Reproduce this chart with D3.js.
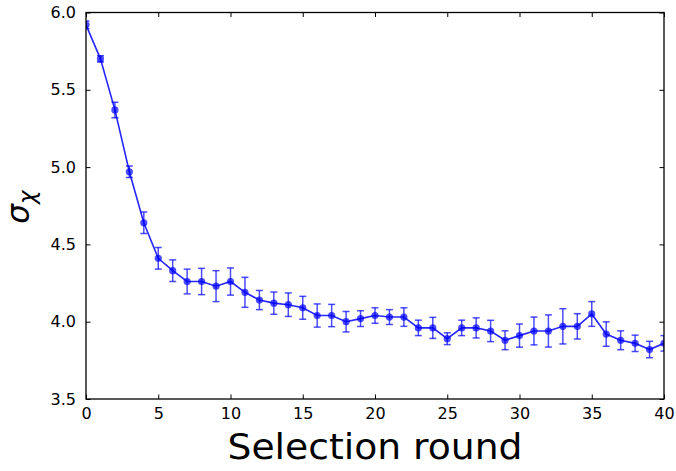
<!DOCTYPE html>
<html>
<head>
<meta charset="utf-8">
<script src="https://cdn.jsdelivr.net/npm/d3@7"></script>
<style>
  html, body { margin: 0; padding: 0; background: #fff; }
  svg { display: block; }
  text { font-family: "DejaVu Sans", sans-serif; }
</style>
</head>
<body>
<svg id="chart" width="676" height="471"></svg>
<script>
// Selection rounds and mean sigma_chi with its uncertainty per round
const rounds = d3.range(0, 41);
const sigma = [
  5.92, 5.70, 5.37, 4.97, 4.64, 4.41, 4.33, 4.26, 4.26, 4.23,
  4.26, 4.19, 4.14, 4.12, 4.11, 4.09, 4.04, 4.04, 4.00, 4.02,
  4.04, 4.03, 4.03, 3.96, 3.96, 3.89, 3.96, 3.96, 3.94, 3.88,
  3.91, 3.94, 3.94, 3.97, 3.97, 4.05, 3.92, 3.88, 3.86, 3.82,
  3.86
];
const sigmaErr = [
  0.025, 0.02, 0.05, 0.037, 0.07, 0.07, 0.07, 0.08, 0.085, 0.10,
  0.088, 0.097, 0.062, 0.072, 0.076, 0.074, 0.075, 0.072, 0.066, 0.051,
  0.05, 0.048, 0.06, 0.05, 0.068, 0.038, 0.05, 0.065, 0.069, 0.061,
  0.075, 0.09, 0.104, 0.114, 0.082, 0.08, 0.079, 0.061, 0.053, 0.053,
  0.05
];
const xTicks = [0, 5, 10, 15, 20, 25, 30, 35, 40];
const yTicks = [3.5, 4.0, 4.5, 5.0, 5.5, 6.0];

const svg = d3.select("#chart");
const plotLeft = 86, plotRight = 664, plotTop = 12.5, plotBottom = 399;

const x = d3.scaleLinear().domain([0, 40]).range([plotLeft, plotRight]);
const y = d3.scaleLinear().domain([3.5, 6.0]).range([plotBottom, plotTop]);

const data = rounds.map((r, i) => ({ r, v: sigma[i], e: sigmaErr[i] }));

svg.append("defs").append("clipPath").attr("id", "clip")
  .append("rect").attr("x", plotLeft).attr("y", plotTop)
  .attr("width", plotRight - plotLeft).attr("height", plotBottom - plotTop);

const marks = svg.append("g").attr("clip-path", "url(#clip)");
const blue = "#0000ff";

// error bars
const eb = marks.append("g")
  .attr("stroke", blue).attr("stroke-opacity", 0.7).attr("stroke-width", 1.5);
data.forEach(d => {
  const cx = x(d.r), y0 = y(d.v - d.e), y1 = y(d.v + d.e);
  eb.append("line").attr("x1", cx).attr("x2", cx).attr("y1", y0).attr("y2", y1);
  eb.append("line").attr("x1", cx - 3.5).attr("x2", cx + 3.5).attr("y1", y0).attr("y2", y0);
  eb.append("line").attr("x1", cx - 3.5).attr("x2", cx + 3.5).attr("y1", y1).attr("y2", y1);
});

// connecting line
marks.append("path").datum(data)
  .attr("fill", "none").attr("stroke", blue).attr("stroke-opacity", 0.85)
  .attr("stroke-width", 1.6)
  .attr("d", d3.line().x(d => x(d.r)).y(d => y(d.v)));

// markers
marks.append("g").selectAll("circle").data(data).join("circle")
  .attr("cx", d => x(d.r)).attr("cy", d => y(d.v)).attr("r", 3.6)
  .attr("fill", blue).attr("fill-opacity", 0.7);

// axes, ticks pointing inward on all four sides
const tickLen = 4.5;
const xb = svg.append("g").attr("transform", `translate(0,${plotBottom})`)
  .call(d3.axisBottom(x).tickValues(xTicks).tickSize(-tickLen).tickPadding(9).tickFormat(d3.format("d")));
const xt = svg.append("g").attr("transform", `translate(0,${plotTop})`)
  .call(d3.axisTop(x).tickValues(xTicks).tickSize(-tickLen).tickFormat(""));
const yl = svg.append("g").attr("transform", `translate(${plotLeft},0)`)
  .call(d3.axisLeft(y).tickValues(yTicks).tickSize(-tickLen).tickPadding(10).tickFormat(d3.format(".1f")));
const yr = svg.append("g").attr("transform", `translate(${plotRight},0)`)
  .call(d3.axisRight(y).tickValues(yTicks).tickSize(-tickLen).tickFormat(""));

[xb, xt, yl, yr].forEach(g => {
  g.select(".domain").remove();
  g.selectAll(".tick line").attr("stroke", "#000").attr("stroke-width", 1);
  g.selectAll("text").attr("font-family", "DejaVu Sans").attr("font-size", 16).attr("fill", "#000");
});

svg.append("rect").attr("x", plotLeft).attr("y", plotTop)
  .attr("width", plotRight - plotLeft).attr("height", plotBottom - plotTop)
  .attr("fill", "none").attr("stroke", "#000").attr("stroke-width", 1.3);

// axis titles
svg.append("text")
  .attr("x", (plotLeft + plotRight) / 2).attr("y", 459)
  .attr("text-anchor", "middle").attr("font-size", 36).attr("fill", "#000")
  .attr("textLength", 295).attr("lengthAdjust", "spacingAndGlyphs")
  .text("Selection round");

const yt = svg.append("text")
  .attr("transform", "translate(29,207) rotate(-90)")
  .attr("text-anchor", "middle").attr("fill", "#000");
yt.append("tspan").attr("font-size", 31).attr("font-style", "italic").text("σ");
yt.append("tspan").attr("font-size", 23).attr("font-style", "italic").attr("dy", 6).text("χ");
</script>
</body>
</html>
